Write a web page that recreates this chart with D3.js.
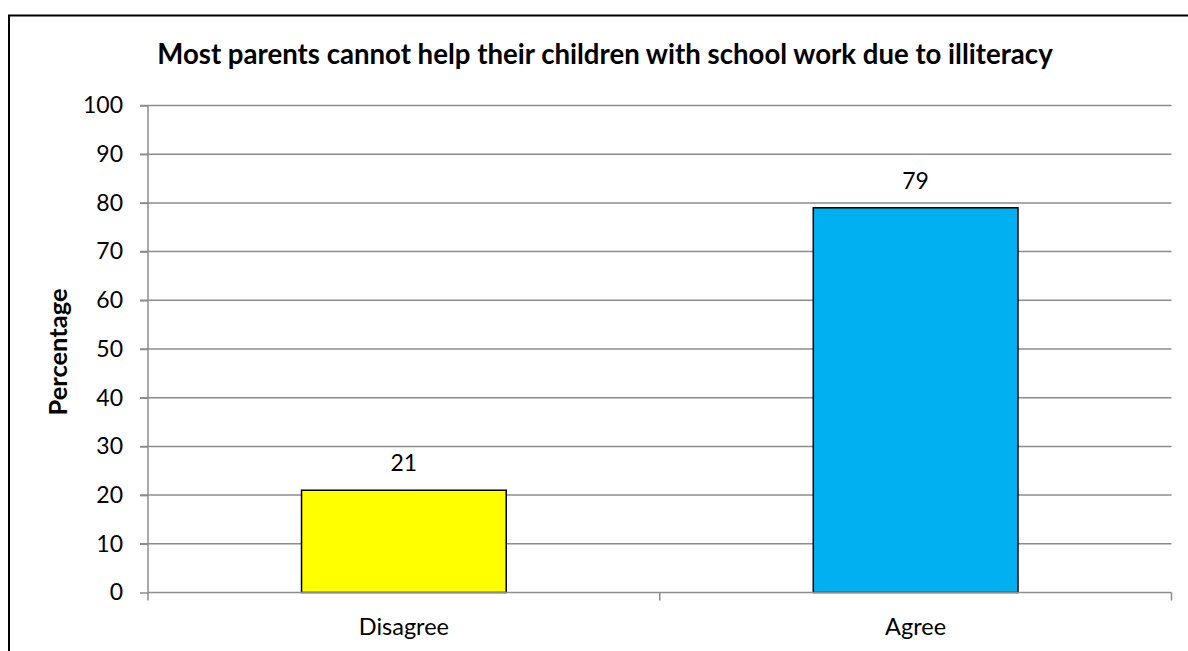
<!DOCTYPE html>
<html>
<head>
<meta charset="utf-8">
<script src="https://cdn.jsdelivr.net/npm/d3@7"></script>
<style>
  html, body { margin: 0; padding: 0; background: #fff; }
  svg { display: block; font-family: Lato, "Open Sans", sans-serif; }
</style>
</head>
<body>
<svg id="chart" width="1188" height="651"></svg>
<script>
// Survey response shares
const categories = ["Disagree", "Agree"];
const values = [21, 79];
const barColors = ["#ffff00", "#00b0f0"];
const yTicks = [0, 10, 20, 30, 40, 50, 60, 70, 80, 90, 100];
const titleText = "Most parents cannot help their children with school work due to illiteracy";
const yLabel = "Percentage";

const svg = d3.select("#chart");
const W = 1188, H = 651;
const plot = { left: 148, right: 1171.5, top: 105.5, bottom: 592.5 };
const FONT = "Lato, sans-serif";

// Outer frame (runs off the right and bottom edges)
svg.append("rect")
  .attr("x", 9).attr("y", 15.5)
  .attr("width", W + 20).attr("height", H + 20)
  .attr("fill", "none").attr("stroke", "#000").attr("stroke-width", 2);

const y = d3.scaleLinear().domain([0, 100]).range([plot.bottom, plot.top]);
const xCat = d3.scaleBand().domain(categories).range([plot.left, plot.right]).padding(0);
const xBar = d3.scaleBand().domain(categories).range([plot.left, plot.right])
  .paddingInner(0.6).paddingOuter(0.3);

// Horizontal gridlines
svg.append("g").selectAll("line").data(yTicks.filter(d => d > 0)).join("line")
  .attr("x1", plot.left - 8).attr("x2", plot.right)
  .attr("y1", d => y(d)).attr("y2", d => y(d))
  .attr("stroke", "#8c8c8c").attr("stroke-width", 1.5);

// Y axis
const yAxis = svg.append("g").attr("transform", `translate(${plot.left},0)`)
  .call(d3.axisLeft(y).tickValues(yTicks).tickSize(8).tickPadding(17));
yAxis.attr("font-family", FONT).attr("font-size", 23);
yAxis.select(".domain").attr("stroke", "#8c8c8c").attr("stroke-width", 1.5)
  .attr("d", `M0,${plot.bottom}V${plot.top}`);
yAxis.selectAll(".tick line").attr("stroke", "#8c8c8c").attr("stroke-width", 1.5);
yAxis.selectAll(".tick text").attr("fill", "#000");

// Bars
svg.append("g").selectAll("rect").data(categories).join("rect")
  .attr("x", d => xBar(d))
  .attr("y", (d, i) => y(values[i]))
  .attr("width", xBar.bandwidth())
  .attr("height", (d, i) => y(0) - y(values[i]))
  .attr("fill", (d, i) => barColors[i])
  .attr("stroke", "#000").attr("stroke-width", 1.5);

// X axis with ticks at category boundaries
const xAxisG = svg.append("g");
xAxisG.append("line")
  .attr("x1", plot.left).attr("x2", plot.right)
  .attr("y1", plot.bottom).attr("y2", plot.bottom)
  .attr("stroke", "#8c8c8c").attr("stroke-width", 1.5);
const boundaries = categories.map(c => xCat(c)).concat([xCat(categories[categories.length - 1]) + xCat.bandwidth()]);
xAxisG.selectAll("line.tk").data(boundaries).join("line").attr("class", "tk")
  .attr("x1", d => d).attr("x2", d => d)
  .attr("y1", plot.bottom).attr("y2", plot.bottom + 8)
  .attr("stroke", "#8c8c8c").attr("stroke-width", 1.5);
xAxisG.selectAll("text").data(categories).join("text")
  .attr("x", d => xCat(d) + xCat.bandwidth() / 2)
  .attr("y", plot.bottom + 42)
  .attr("text-anchor", "middle").attr("font-size", 23.5).attr("fill", "#000")
  .text(d => d);

// Value labels
svg.append("g").selectAll("text").data(categories).join("text")
  .attr("x", d => xBar(d) + xBar.bandwidth() / 2)
  .attr("y", (d, i) => y(values[i]) - 19)
  .attr("text-anchor", "middle").attr("font-size", 23).attr("fill", "#000")
  .text((d, i) => values[i]);

// Title
svg.append("text")
  .attr("x", 605).attr("y", 64)
  .attr("text-anchor", "middle").attr("font-size", 27.6).attr("font-weight", "bold")
  .attr("fill", "#000")
  .text(titleText);

// Y axis title
svg.append("text")
  .attr("transform", `translate(67,352) rotate(-90)`)
  .attr("text-anchor", "middle").attr("font-size", 25.5).attr("font-weight", "bold")
  .attr("fill", "#000")
  .text(yLabel);
</script>
</body>
</html>
